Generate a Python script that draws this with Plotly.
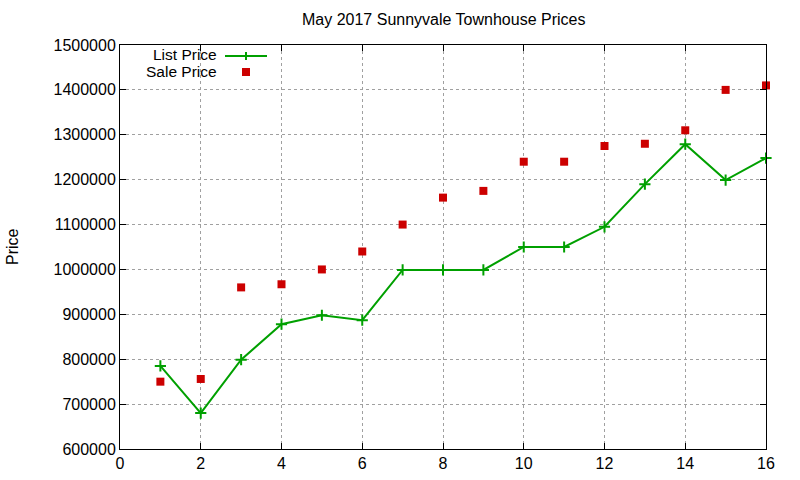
import plotly.graph_objects as go

title = "May 2017 Sunnyvale Townhouse Prices"
x_vals = list(range(1, 17))
list_price = [785000, 680000, 799000, 878000, 898000, 887000, 999000, 999000,
              999000, 1050000, 1050000, 1095000, 1190000, 1279000, 1199000, 1248000]
sale_price = [750000, 756000, 960000, 967000, 1000000, 1040000, 1100000, 1160000,
              1175000, 1240000, 1240000, 1275000, 1280000, 1310000, 1400000, 1410000]
x_ticks = [0, 2, 4, 6, 8, 10, 12, 14, 16]
y_ticks = [600000, 700000, 800000, 900000, 1000000, 1100000, 1200000, 1300000, 1400000, 1500000]

GREEN = "#00a000"
RED = "#cc0000"
FONT = "Liberation Sans"
FS = 16
W, H = 800, 480
L, R, T, B = 120, 34, 45, 31
PW, PH = W - L - R, H - T - B

def px(xp):
    return (xp - L) / PW

def py(yp):
    return (H - B - yp) / PH

fig = go.Figure()
fig.add_trace(go.Scatter(
    x=x_vals, y=list_price, mode="lines+markers", name="List Price",
    line=dict(color=GREEN, width=2),
    marker=dict(symbol="cross-thin", size=8, line=dict(color=GREEN, width=2)),
    cliponaxis=False,
))
fig.add_trace(go.Scatter(
    x=x_vals, y=sale_price, mode="markers", name="Sale Price",
    marker=dict(symbol="square", size=8, color=RED, line=dict(width=0)),
    cliponaxis=False,
))

axis_common = dict(
    showline=True, linecolor="black", linewidth=1, mirror="ticks",
    ticks="inside", ticklen=6, tickcolor="black", tickwidth=1,
    showgrid=True, gridcolor="#a0a0a0", gridwidth=1, griddash="3px,3px",
    zeroline=False, automargin=False,
    tickfont=dict(family=FONT, size=FS, color="black"),
)
fig.update_xaxes(range=[0, 16], tickvals=x_ticks, **axis_common)
fig.update_yaxes(range=[600000, 1500000], tickvals=y_ticks, tickformat="d", **axis_common)

leg_font = dict(family=FONT, size=15.5, color="black")
annotations = [
    dict(text=title, xref="paper", yref="paper", x=0.5, y=py(20), xanchor="center",
         yanchor="middle", showarrow=False, font=dict(family=FONT, size=FS, color="black")),
    dict(text="Price", xref="paper", yref="paper", x=px(12), y=0.5, xanchor="center",
         yanchor="middle", textangle=-90, showarrow=False,
         font=dict(family=FONT, size=FS, color="black")),
    dict(text="List Price", xref="paper", yref="paper", x=px(218), y=py(54), xanchor="right",
         yanchor="middle", showarrow=False, font=leg_font, borderpad=0),
    dict(text="Sale Price", xref="paper", yref="paper", x=px(218), y=py(72), xanchor="right",
         yanchor="middle", showarrow=False, font=leg_font, borderpad=0),
]

shapes = [
    dict(type="line", xref="paper", yref="paper", x0=px(225), x1=px(267), y0=py(56), y1=py(56),
         line=dict(color=GREEN, width=2)),
    dict(type="line", xref="paper", yref="paper", x0=px(246), x1=px(246), y0=py(52), y1=py(60),
         line=dict(color=GREEN, width=2)),
    dict(type="rect", xref="paper", yref="paper", x0=px(242), x1=px(250), y0=py(68), y1=py(76),
         fillcolor=RED, line=dict(width=0)),
]

fig.update_layout(
    width=W, height=H, margin=dict(l=L, r=R, t=T, b=B, autoexpand=False),
    paper_bgcolor="white", plot_bgcolor="white", showlegend=False,
    font=dict(family=FONT, size=FS, color="black"),
    annotations=annotations, shapes=shapes,
)
fig.write_html("out.html", config={"displayModeBar": False},
               post_script="document.body.style.margin='0';document.body.style.overflow='hidden';")
